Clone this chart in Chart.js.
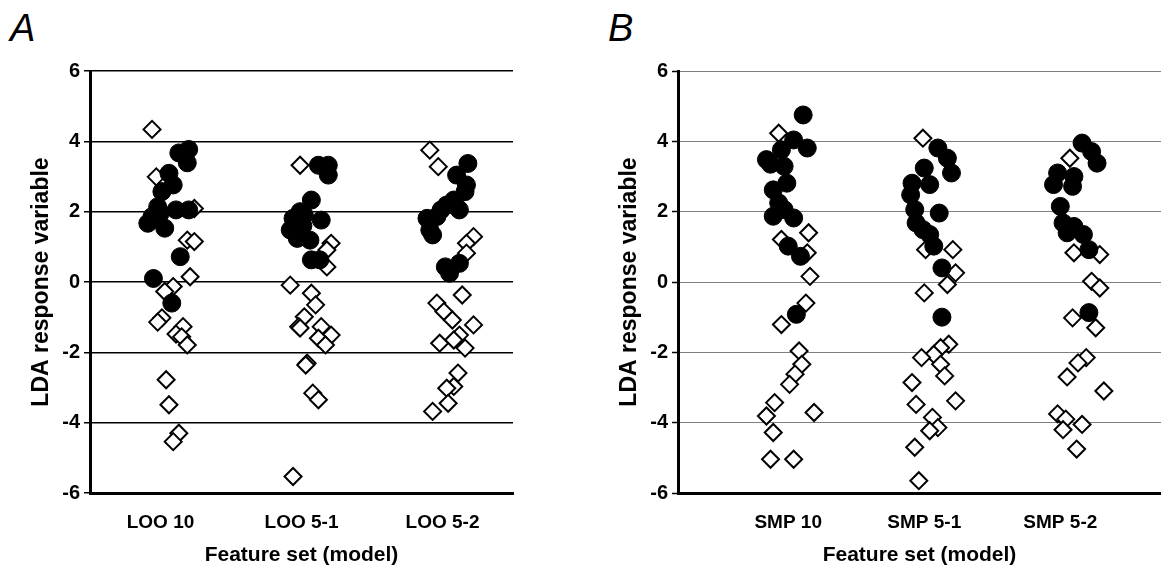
<!DOCTYPE html>
<html>
<head>
<meta charset="utf-8">
<script src="https://cdn.jsdelivr.net/npm/chart.js@4.4.1/dist/chart.umd.min.js"></script>
<style>
  body { margin: 0; background: #fff; width: 1161px; height: 574px; overflow: hidden; position: relative; }
  .panel { position: absolute; top: 0; }
  .letter { position: absolute; top: 7px; font: italic 38px "Liberation Sans", Arial, sans-serif; color: #000; }
</style>
</head>
<body>
<div class="letter" style="left:10px">A</div>
<div class="letter" style="left:608px">B</div>
<div class="panel" style="left:0px"><canvas id="chartA" width="515" height="574"></canvas></div>
<div class="panel" style="left:588px"><canvas id="chartB" width="573" height="574"></canvas></div>
<script>
// category names
const looCategories = ['LOO 10', 'LOO 5-1', 'LOO 5-2'];
const smpCategories = ['SMP 10', 'SMP 5-1', 'SMP 5-2'];
const yTicks = [-6, -4, -2, 0, 2, 4, 6];

// points as [horizontal jitter, LDA response]
// filled circles
const loo10Filled = [[0.20, 3.77], [0.13, 3.67], [0.19, 3.39], [0.06, 3.09], [0.09, 2.76], [0.01, 2.57], [-0.02, 2.14], [0.11, 2.05], [0.20, 2.05], [0.00, 1.96], [-0.06, 1.86], [-0.09, 1.67], [0.03, 1.53], [0.14, 0.72], [-0.05, 0.10], [0.08, -0.60]];
const loo51Filled = [[0.12, 3.32], [0.19, 3.32], [0.19, 3.04], [0.07, 2.33], [-0.01, 2.00], [0.02, 1.90], [-0.06, 1.81], [0.14, 1.76], [0.01, 1.60], [-0.08, 1.48], [-0.03, 1.24], [0.06, 1.19], [0.07, 0.63], [0.13, 0.63]];
const loo52Filled = [[0.18, 3.37], [0.10, 3.04], [0.17, 2.76], [0.16, 2.57], [0.08, 2.33], [0.03, 2.19], [0.10, 2.14], [-0.01, 2.05], [0.12, 2.05], [-0.04, 1.86], [-0.11, 1.81], [-0.09, 1.48], [-0.07, 1.34], [0.12, 0.53], [0.02, 0.43], [0.05, 0.25]];
const smp10Filled = [[0.11, 4.75], [0.04, 4.04], [0.14, 3.81], [-0.05, 3.76], [-0.16, 3.48], [-0.13, 3.35], [-0.03, 3.29], [-0.01, 2.81], [-0.11, 2.62], [-0.07, 2.25], [-0.03, 2.06], [-0.11, 1.87], [0.04, 1.82], [0.00, 1.02], [0.09, 0.73], [0.06, -0.92]];
const smp51Filled = [[0.10, 3.81], [0.17, 3.52], [0.00, 3.24], [0.20, 3.10], [-0.09, 2.81], [0.04, 2.77], [-0.10, 2.48], [-0.07, 2.06], [0.11, 1.96], [-0.06, 1.68], [-0.01, 1.49], [0.04, 1.35], [0.07, 1.02], [0.13, 0.40], [0.13, -1.00]];
const smp52Filled = [[0.16, 3.95], [0.23, 3.71], [0.27, 3.38], [-0.02, 3.10], [0.10, 3.00], [-0.05, 2.77], [0.09, 2.72], [0.00, 2.15], [0.02, 1.68], [0.10, 1.58], [0.05, 1.40], [0.17, 1.35], [0.21, 0.92], [0.21, -0.87]];

// open diamonds
const loo10Open = [[-0.06, 4.34], [-0.03, 2.99], [0.24, 2.09], [0.19, 1.19], [0.24, 1.15], [0.21, 0.15], [0.09, -0.13], [0.03, -0.27], [0.01, -1.02], [-0.02, -1.14], [0.16, -1.27], [0.11, -1.48], [0.15, -1.56], [0.19, -1.79], [0.04, -2.78], [0.06, -3.49], [0.13, -4.30], [0.09, -4.54]];
const loo51Open = [[-0.01, 3.32], [0.21, 1.10], [0.18, 0.91], [0.18, 0.43], [-0.08, -0.09], [0.07, -0.32], [0.10, -0.65], [0.02, -0.99], [-0.02, -1.27], [-0.01, -1.31], [0.14, -1.27], [0.21, -1.51], [0.12, -1.60], [0.17, -1.79], [0.04, -2.31], [0.03, -2.36], [0.08, -3.16], [0.12, -3.35], [-0.06, -5.53]];
const loo52Open = [[-0.09, 3.75], [-0.03, 3.28], [0.22, 1.29], [0.17, 1.10], [0.17, 0.82], [0.14, -0.37], [-0.04, -0.60], [0.01, -0.84], [0.07, -1.08], [0.22, -1.22], [0.12, -1.51], [0.08, -1.65], [-0.02, -1.74], [0.16, -1.88], [0.11, -2.59], [0.08, -2.97], [0.03, -3.02], [0.04, -3.45], [-0.07, -3.68]];
const smp10Open = [[-0.07, 4.23], [0.15, 1.40], [-0.05, 1.21], [0.14, 0.83], [0.16, 0.16], [0.13, -0.60], [-0.05, -1.21], [0.08, -1.96], [0.10, -2.34], [0.05, -2.62], [0.01, -2.91], [-0.10, -3.43], [0.19, -3.71], [-0.16, -3.81], [-0.11, -4.28], [-0.13, -5.04], [0.04, -5.04]];
const smp51Open = [[-0.01, 4.09], [0.01, 0.92], [0.21, 0.92], [0.23, 0.26], [0.17, -0.07], [0.00, -0.31], [0.18, -1.77], [0.12, -1.87], [0.07, -2.06], [-0.02, -2.15], [0.12, -2.34], [0.15, -2.67], [-0.09, -2.86], [0.23, -3.38], [-0.06, -3.48], [0.06, -3.85], [0.10, -4.14], [0.04, -4.23], [-0.07, -4.70], [-0.04, -5.65]];
const smp52Open = [[0.07, 3.52], [0.10, 0.83], [0.29, 0.78], [0.23, 0.02], [0.29, -0.17], [0.09, -1.02], [0.26, -1.30], [0.19, -2.15], [0.13, -2.30], [0.05, -2.70], [0.32, -3.10], [-0.02, -3.75], [0.04, -3.90], [0.16, -4.05], [0.02, -4.20], [0.12, -4.75]];

const fontFamily = '"Liberation Sans", Arial, sans-serif';

function toPoints(groups) {
    let pts = [];
    groups.forEach((g, i) => {
        g.forEach(p => pts.push({ x: i + 1 + p[0], y: p[1] }));
    });
    return pts;
}

function buildChart(canvasId, categories, filledGroups, openGroups, xMin, xMax, gridColor, gridWidth, padRight) {
    let ctx = document.getElementById(canvasId).getContext('2d');
    return new Chart(ctx, {
        type: 'scatter',
        data: {
            datasets: [{
                data: toPoints(filledGroups),
                pointStyle: 'circle',
                pointRadius: 9,
                backgroundColor: '#000',
                borderColor: '#000',
                borderWidth: 1
            }, {
                data: toPoints(openGroups),
                pointStyle: 'rectRot',
                pointRadius: 8.5,
                backgroundColor: '#fff',
                borderColor: '#000',
                borderWidth: 2
            }]
        },
        options: {
            responsive: false,
            animation: false,
            layout: { autoPadding: false, padding: { top: 71, right: padRight, bottom: 0, left: 0 } },
            plugins: { legend: { display: false }, tooltip: { enabled: false } },
            scales: {
                x: {
                    type: 'linear',
                    min: xMin,
                    max: xMax,
                    afterBuildTicks: (scale) => { scale.ticks = [{ value: 1 }, { value: 2 }, { value: 3 }]; },
                    afterFit: (scale) => {
                        scale.height = 81;
                        scale.paddingLeft = 0;
                        scale.paddingRight = 0;
                    },
                    grid: { display: false, drawTicks: false },
                    border: { display: true, color: '#000', width: 3 },
                    ticks: {
                        color: '#000',
                        padding: 18,
                        maxRotation: 0,
                        font: { family: fontFamily, size: 19, weight: 'bold' },
                        callback: (v) => categories[v - 1]
                    },
                    title: {
                        display: true,
                        text: 'Feature set (model)',
                        color: '#000',
                        padding: { top: 0, bottom: 6 },
                        font: { family: fontFamily, size: 21, weight: 'bold' }
                    }
                },
                y: {
                    min: -6,
                    max: 6,
                    afterBuildTicks: (scale) => { scale.ticks = yTicks.map(v => ({ value: v })); },
                    afterFit: (scale) => { scale.width = 90; },
                    grid: { color: gridColor, lineWidth: gridWidth, tickColor: '#000', tickLength: 6, tickWidth: 1.5 },
                    border: { display: true, color: '#000', width: 3 },
                    ticks: {
                        color: '#000',
                        padding: 4,
                        font: { family: fontFamily, size: 20, weight: 'bold' }
                    },
                    title: {
                        display: true,
                        text: 'LDA response variable',
                        color: '#000',
                        padding: { top: 28, bottom: 0 },
                        font: { family: fontFamily, size: 23, weight: 'bold' }
                    }
                }
            }
        }
    });
}

buildChart('chartA', looCategories,
    [loo10Filled, loo51Filled, loo52Filled],
    [loo10Open, loo51Open, loo52Open],
    0.5, 3.5, '#000', 1.5, 2);

buildChart('chartB', smpCategories,
    [smp10Filled, smp51Filled, smp52Filled],
    [smp10Open, smp51Open, smp52Open],
    0.19, 3.74, '#7f7f7f', 1, 0);
</script>
</body>
</html>
